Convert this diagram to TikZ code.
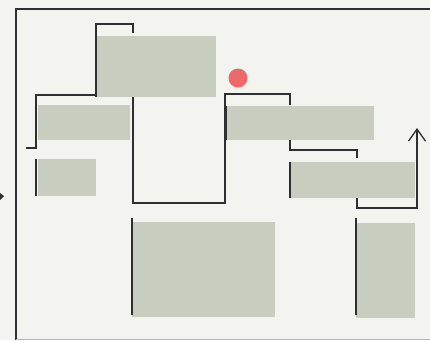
\documentclass[tikz,border=0pt]{standalone}
\usetikzlibrary{arrows.meta}
\definecolor{bgc}{HTML}{F3F3EF}
\definecolor{boxc}{HTML}{C9CDBF}
\definecolor{linec}{HTML}{2E2E33}
\definecolor{dotc}{HTML}{EE6A6A}
\tikzset{
  blk/.style={fill=boxc, draw=none, inner sep=0pt, outer sep=0pt, anchor=north west},
  wire/.style={draw=linec, line width=1.3pt, line join=miter},
  edgeline/.style={draw=linec, line width=2.6pt},
  framel/.style={draw=linec, line width=1.6pt}
}
\begin{document}
\begin{tikzpicture}[x=1pt,y=-1pt]
\fill[bgc] (0,0) rectangle (430,340);
\useasboundingbox (0,0) rectangle (430,340);
% frame
\coordinate (ftl) at (16,9);
\coordinate (ftr) at (430,9);
\coordinate (fbl) at (16,340);
\draw[framel] (ftr) -- (ftl) -- (fbl);
\draw[draw=linec!35, line width=0.8pt] (16,339) -- (430,339);
% boxes
\node[blk, minimum width=120pt, minimum height=61pt] (b1) at (96,36) {};
\node[blk, minimum width=92pt, minimum height=35pt] (b2) at (38,105) {};
\node[blk, minimum width=58pt, minimum height=37pt] (b3) at (38,159) {};
\node[blk, minimum width=143pt, minimum height=95pt] (b4) at (132,222) {};
\node[blk, minimum width=148pt, minimum height=34pt] (b5) at (226,106) {};
\node[blk, minimum width=125pt, minimum height=36pt] (b6) at (290,162) {};
\node[blk, minimum width=59pt, minimum height=95pt] (b7) at (356,223) {};
% red dot
\node[circle, fill=dotc, minimum size=19pt, inner sep=0pt] (dot) at (238,78) {};
% thick left edges
\draw[edgeline] (b1.north west) -- (b1.south west);
\draw[edgeline] (36,105) -- (36,140);
\draw[edgeline] (36,159) -- (36,196);
\draw[edgeline] (132,218) -- (132,315);
\draw[edgeline] (b5.north west) -- (b5.south west);
\draw[edgeline] (b6.north west) -- (b6.south west);
\draw[edgeline] (356,218) -- (356,315);
% connectors
\coordinate (a0) at (26,148);
\coordinate (a1) at (133,33);
\draw[wire] (a0) -- (36,148) -- (36,95) -- (96,95) -- (96,24) -- (133,24) -- (a1);
\coordinate (c1) at (133,97);
\coordinate (c2) at (290,105);
\draw[wire] (c1) -- (133,203) -- (225,203) -- (225,94) -- (290,94) -- (c2);
\coordinate (d1) at (290,140);
\coordinate (d2) at (357,158);
\draw[wire] (d1) -- (290,150) -- (357,150) -- (d2);
\coordinate (e1) at (357,198);
\coordinate (e2) at (417,128);
\draw[wire, -{Straight Barb[length=12pt,width=17pt,line width=1.3pt]}] (e1) -- (357,208) -- (417,208) -- (e2);
% tiny arrow fragment at left edge
\fill[linec] (0,193) -- (4,196) -- (0,200) -- cycle;
\end{tikzpicture}
\end{document}
